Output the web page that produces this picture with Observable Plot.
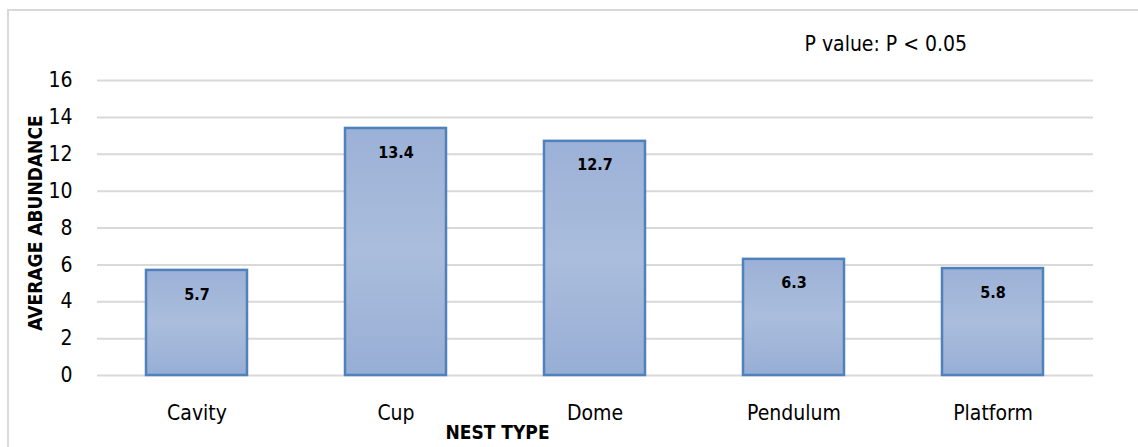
<!DOCTYPE html>
<html><head><meta charset="utf-8">
<script src="https://cdn.jsdelivr.net/npm/d3@7"></script>
<script src="https://cdn.jsdelivr.net/npm/@observablehq/plot@0.6"></script>
<style>
body{margin:0;background:#fff;}
#wrap{position:relative;width:1138px;height:447px;overflow:hidden;background:#fff;}
#border{position:absolute;left:7px;top:9px;width:2000px;height:2000px;border-top:2px solid #d9d9d9;border-left:2px solid #d9d9d9;}
#chart{position:absolute;left:0;top:0;}
</style></head><body><div id="wrap"><div id="border"></div><div id="chart"></div></div>
<script>
const categories = ["Cavity", "Cup", "Dome", "Pendulum", "Platform"];
const values = [5.7, 13.4, 12.7, 6.3, 5.8];
const yTicks = [0, 2, 4, 6, 8, 10, 12, 14, 16];
const xTitle = "NEST TYPE";
const yTitle = "AVERAGE ABUNDANCE";
const note = "P value: P < 0.05";

const data = categories.map((c, i) => ({nest: c, value: values[i]}));
const font = "'Liberation Sans Narrow','Arial Narrow','DejaVu Sans Condensed',sans-serif";

const chart = Plot.plot({
  width: 1138, height: 447,
  marginLeft: 97, marginRight: 45, marginTop: 80, marginBottom: 72,
  style: {fontFamily: font, fontSize: "21px", color: "#000", background: "transparent", overflow: "visible"},
  x: {domain: categories, paddingInner: 0.49, paddingOuter: 0.245, label: null},
  y: {domain: [0, 16], label: null},
  marks: [
    Plot.ruleY(yTicks, {stroke: "#d9d9d9", strokeWidth: 2}),
    Plot.barY(data, {x: "nest", y: "value", fill: "url(#barGrad)", stroke: "#4f81bd", strokeWidth: 2.5}),
    Plot.text(data, {x: "nest", y: "value", text: d => d.value.toFixed(1), dy: 24, fontWeight: "bold", fontSize: 16, fill: "#000"}),
    Plot.axisY({ticks: yTicks, tickSize: 0, tickPadding: 25, fontSize: 21, label: null}),
    Plot.axisX({tickSize: 0, tickPadding: 30, fontSize: 21, label: null}),
    Plot.text([xTitle], {frameAnchor: "bottom", lineAnchor: "middle", dx: -98, dy: 57, fontWeight: "bold", fontSize: 19, fill: "#000"}),
    Plot.text([yTitle], {frameAnchor: "left", textAnchor: "middle", lineAnchor: "middle", rotate: -90, dx: -62, dy: -5, fontWeight: "bold", fontSize: 19, fill: "#000"}),
    Plot.text([note], {frameAnchor: "top-left", textAnchor: "start", lineAnchor: "middle", dx: 707, dy: -36, fontSize: 21, fill: "#000"})
  ]
});

const ns = "http://www.w3.org/2000/svg";
const defs = document.createElementNS(ns, "defs");
const grad = document.createElementNS(ns, "linearGradient");
grad.setAttribute("id", "barGrad");
grad.setAttribute("x1", "0"); grad.setAttribute("y1", "0");
grad.setAttribute("x2", "0"); grad.setAttribute("y2", "1");
[["0", "#9cb1d7"], ["0.5", "#aabddc"], ["1", "#97aed5"]].forEach(([o, c]) => {
  const s = document.createElementNS(ns, "stop");
  s.setAttribute("offset", o); s.setAttribute("stop-color", c);
  grad.appendChild(s);
});
defs.appendChild(grad);
chart.insertBefore(defs, chart.firstChild);
document.getElementById("chart").appendChild(chart);
</script>
</body></html>
